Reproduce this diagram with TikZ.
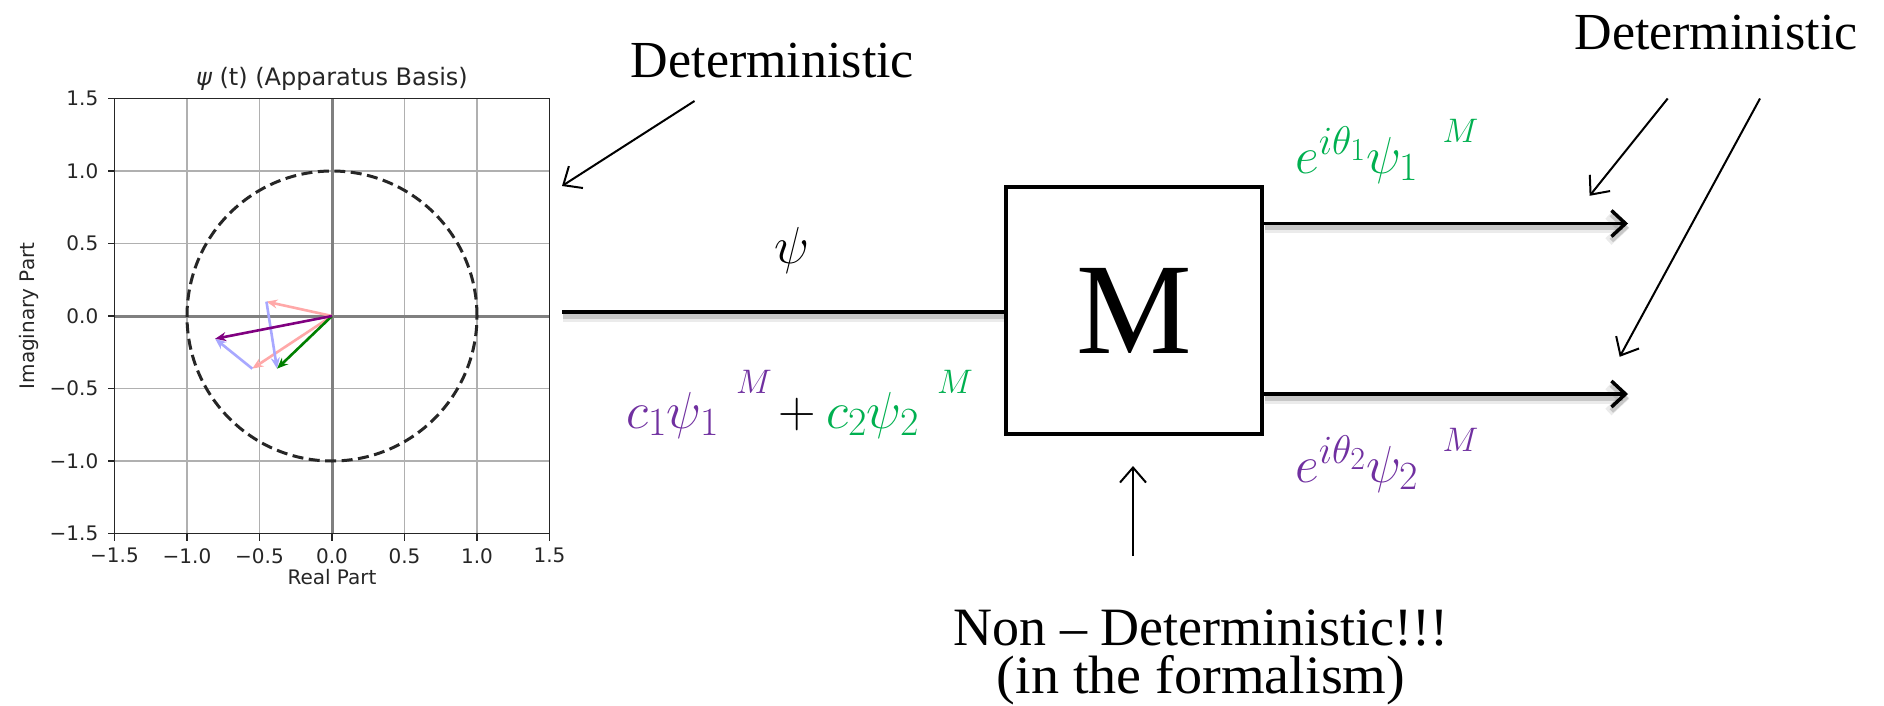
\RequirePackage{fix-cm}
\documentclass[tikz,border=0pt]{standalone}
\usepackage{fontspec}
\setmainfont{Liberation Serif}
\newfontfamily\plotfont{DejaVu Sans}
\usetikzlibrary{arrows.meta}
\DeclareMathSizes{52}{52}{40}{32}
\definecolor{mpurple}{HTML}{7030A0}
\definecolor{mgreen}{HTML}{00B050}
\definecolor{ppurple}{HTML}{800080}
\definecolor{pgreen}{HTML}{008000}
\definecolor{ppink}{HTML}{FFA8A8}
\definecolor{pblue}{HTML}{A8A8FF}
\definecolor{gridgray}{HTML}{B0B0B0}
\definecolor{zerogray}{HTML}{808080}
\begin{document}
\begin{tikzpicture}[x=1pt,y=-1pt,
  bigtext/.style={font=\fontsize{52}{60}\selectfont, inner sep=0pt},
  bottomtext/.style={font=\fontsize{54}{48}\selectfont, inner sep=0pt, align=center},
  mathtext/.style={font=\fontsize{52}{60}\selectfont, inner sep=0pt},
  suptext/.style={font=\fontsize{34}{40}\selectfont, inner sep=0pt},
  plottick/.style={font=\plotfont\fontsize{20}{24}\selectfont, inner sep=0pt, text=black!85},
  thinarrow/.style={line width=2pt, -{Straight Barb[length=15pt,width=26pt]}},
  shadowline/.style={preaction={draw=black, draw opacity=0.08, line width=9pt, transform canvas={yshift=-5pt, xshift=1pt}},
                     preaction={draw=black, draw opacity=0.15, line width=5pt, transform canvas={yshift=-4pt, xshift=1pt}}},
  mainline/.style={line width=3.5pt, shadowline},
  mainarrow/.style={line width=3.5pt, shadowline, -{Straight Barb[length=14pt,width=26pt]}},
  vec/.style={line width=2.6pt, -{Stealth[length=11pt,width=9pt]}},
]
\fill[white] (0,0) rectangle (1884,706);
\useasboundingbox (0,0) rectangle (1884,706);

% ---------------- plot ----------------
\begin{scope}[shift={(332pt,-316pt)}, x=145pt, y=145pt]
  \draw[gridgray, line width=1.6pt] (-1.5,-1.5) grid[step=0.5] (1.5,1.5);
  \draw[zerogray, line width=3pt] (-1.5,0) -- (1.5,0);
  \draw[zerogray, line width=3pt] (0,-1.5) -- (0,1.5);
  \draw[black!85, line width=3pt, dash pattern=on 11pt off 5.5pt] (0,0) circle[radius=1];
  % component vectors
  \coordinate (o) at (0,0);
  \coordinate (p1) at (-0.452,0.099);
  \coordinate (g1) at (-0.379,-0.363);
  \coordinate (p2) at (-0.55,-0.363);
  \coordinate (u1) at (-0.806,-0.157);
  \draw[vec, ppink] (o) -- (p1);
  \draw[vec, ppink] (o) -- (p2);
  \draw[vec, pblue] (p1) -- (g1);
  \draw[vec, pblue] (p2) -- (u1);
  \draw[vec, pgreen] (o) -- (g1);
  \draw[vec, ppurple] (o) -- (u1);
  % frame and ticks
  \draw[black!85, line width=1.6pt] (-1.5,-1.5) rectangle (1.5,1.5);
  \foreach \v/\t in {-1.5/−1.5,-1/−1.0,-0.5/−0.5,0/0.0,0.5/0.5,1/1.0,1.5/1.5}{
    \draw[black!85, line width=1.6pt] (\v,-1.5) -- ++(0,-7pt);
    \draw[black!85, line width=1.6pt] (-1.5,\v) -- ++(-7pt,0);
    \node[plottick, anchor=north, yshift=-14.5pt] (xt\v) at (\v,-1.5) {\t};
    \node[plottick, anchor=east, xshift=-16pt] (yt\v) at (-1.5,\v) {\t};
  }
\end{scope}
\node[plottick, anchor=base, font=\plotfont\fontsize{24}{28}\selectfont] (title) at (332,85.7) {{\itshape ψ} (t) (Apparatus Basis)};
\node[plottick, anchor=base] (xlabel) at (332,584) {Real Part};
\node[plottick, rotate=90] (ylabel) at (29,316) {Imaginary Part};

% ---------------- diagram ----------------
\node[draw, line width=3.5pt, minimum width=256pt, minimum height=247pt, inner sep=0pt,
      font=\fontsize{130}{130}\selectfont] (box) at (1134,310.5) {M};

\coordinate (in0) at (562,312);
\draw[mainline] (in0) -- (in0 -| box.west);

\coordinate (out1) at (1628,223.5);
\coordinate (out2) at (1628,394);
\draw[mainarrow] (out1 -| box.east) -- (out1);
\draw[mainarrow] (out2 -| box.east) -- (out2);

\node[bigtext, anchor=base] (det1) at (772.5,77.3) {Deterministic};
\node[bigtext, anchor=base] (det2) at (1716,49.5) {Deterministic};

\coordinate (d1s) at (694.5,101);
\coordinate (d1e) at (562,186);
\draw[thinarrow] (d1s) -- (d1e);
\coordinate (d2s) at (1667.7,98.5);
\coordinate (d2e) at (1589.6,195.8);
\draw[thinarrow] (d2s) -- (d2e);
\coordinate (d3s) at (1760,98.5);
\coordinate (d3e) at (1619.7,356.8);
\draw[thinarrow] (d3s) -- (d3e);

\node[mathtext] (psi) at (792,250) {$\psi$};

\node[mathtext, anchor=base west, text=mpurple] (c1) at (626,428) {$c_1\psi_1$};
\node[suptext, text=mpurple] (m1) at (754,381.7) {$M$};
\node[mathtext] (plus) at (797.5,414) {$+$};
\node[mathtext, anchor=base west, text=mgreen] (c2) at (826,428) {$c_2\psi_2$};
\node[suptext, text=mgreen] (m2) at (955,381.7) {$M$};

\node[mathtext, anchor=base west, text=mgreen] (e1) at (1295,173) {$e^{i\theta_1}\psi_1$};
\node[suptext, text=mgreen] (m3) at (1460.5,131) {$M$};
\node[mathtext, anchor=base west, text=mpurple] (e2) at (1295,482) {$e^{i\theta_2}\psi_2$};
\node[suptext, text=mpurple] (m4) at (1460.5,440) {$M$};

\node[bottomtext, anchor=south] (nd) at (1201,705) {Non – Deterministic!!!\\\scalebox{1.04}[1]{(in the formalism)}};
\coordinate (ups) at (1133,556);
\coordinate (upe) at (1133,466);
\draw[thinarrow] (ups) -- (upe);
\end{tikzpicture}
\end{document}
